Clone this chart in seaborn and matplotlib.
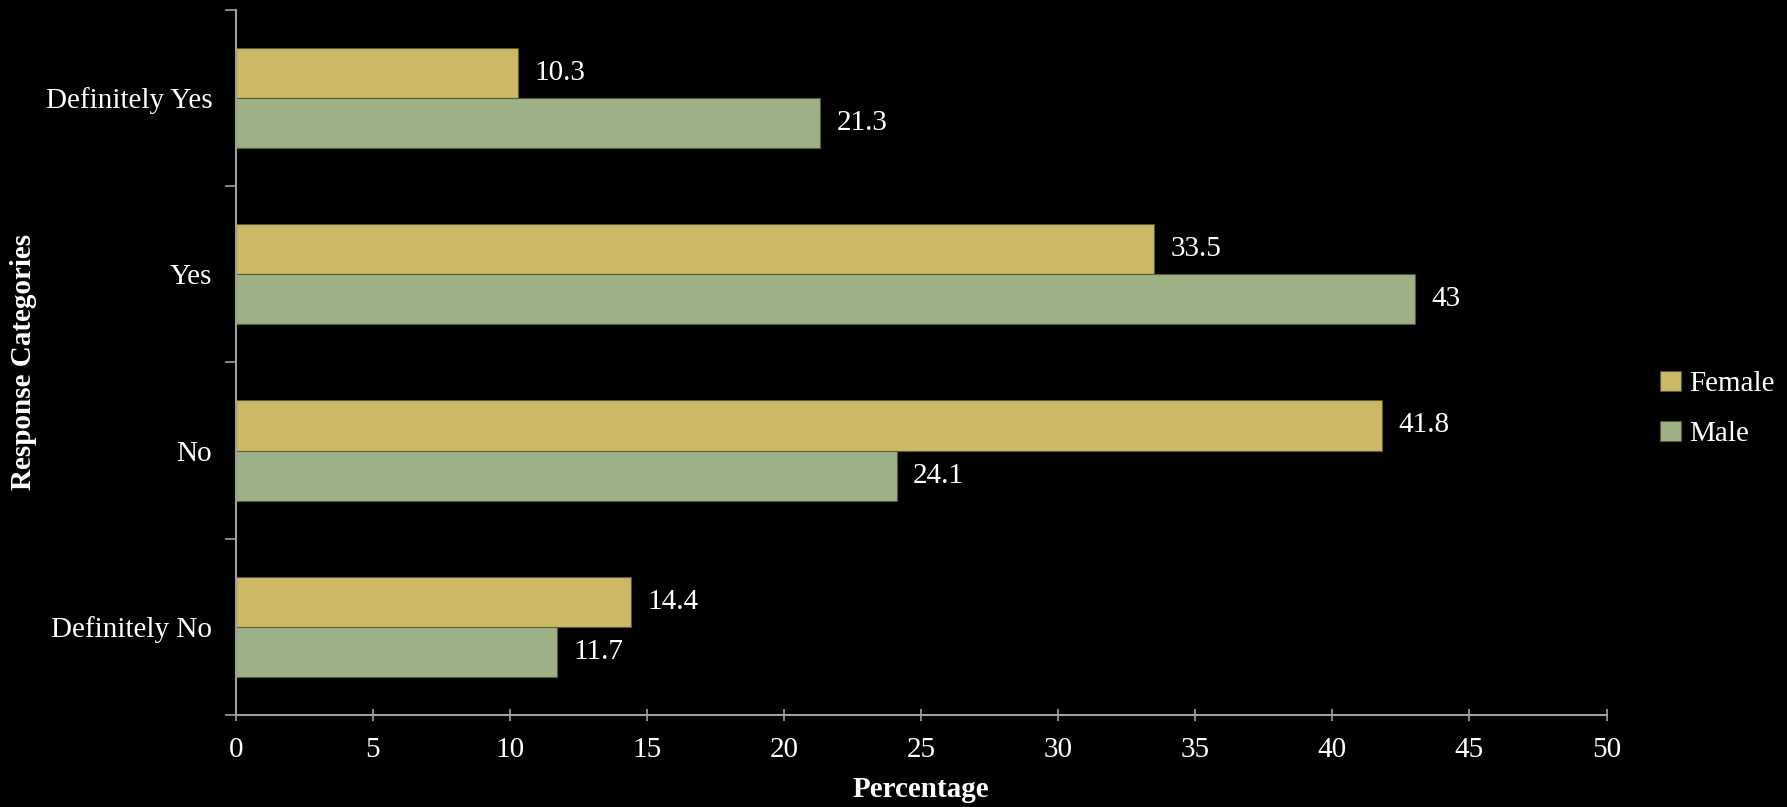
import pandas as pd
import matplotlib.pyplot as plt
import seaborn as sns

categories = ["Definitely Yes", "Yes", "No", "Definitely No"]
female = [10.3, 33.5, 41.8, 14.4]
male = [21.3, 43, 24.1, 11.7]
genders = ["Female", "Male"]
x_ticks = [0, 5, 10, 15, 20, 25, 30, 35, 40, 45, 50]


def setup_style():
    sns.set_theme(style="white")
    plt.rcParams.update({
        "font.family": ["Liberation Serif", "DejaVu Serif"],
        "figure.facecolor": "black",
        "axes.facecolor": "black",
        "savefig.facecolor": "black",
        "text.color": "white",
        "axes.labelcolor": "white",
        "xtick.color": "white",
        "ytick.color": "white",
    })


def plot_bars(out_path):
    df = pd.DataFrame({
        "Category": categories * 2,
        "Percentage": female + male,
        "Gender": [genders[0]] * 4 + [genders[1]] * 4,
    })

    fig = plt.figure(figsize=(17.87, 8.07), dpi=100)
    ax = fig.add_axes([0.132, 0.114, 0.767, 0.874])

    sns.barplot(data=df, y="Category", x="Percentage", hue="Gender",
                order=categories, hue_order=genders,
                palette=["#CDB866", "#9DB184"], saturation=1, width=0.57,
                edgecolor="#5a5a3a", linewidth=0.8, orient="h", ax=ax)

    fs = 21
    for cont in ax.containers:
        ax.bar_label(cont, fmt="%g", padding=12, fontsize=fs, color="white")

    ax.set_xlim(0, 50)
    ax.set_ylim(3.5, -0.5)
    ax.set_xticks(x_ticks)
    ax.set_xticklabels([str(t) for t in x_ticks], fontsize=fs)
    ax.set_yticks([-0.5, 0.5, 1.5, 2.5, 3.5])
    ax.set_yticklabels([])
    ax.set_yticks(range(len(categories)), labels=categories, minor=True)
    ax.tick_params(axis="y", which="minor", length=0, labelsize=fs, pad=17)
    ax.tick_params(axis="y", which="major", length=8, width=1.2,
                   color="#a0a0a0", direction="out", left=True)
    ax.tick_params(axis="x", length=8, width=1.2, color="#a0a0a0",
                   direction="inout", bottom=True, labelsize=fs, pad=12)

    for side in ["top", "right"]:
        ax.spines[side].set_visible(False)
    for side in ["left", "bottom"]:
        ax.spines[side].set_color("#a0a0a0")
        ax.spines[side].set_linewidth(1.5)

    ax.set_xlabel("Percentage", fontsize=fs, fontweight="bold", labelpad=9)
    ax.set_ylabel("Response Categories", fontsize=fs, fontweight="bold")
    ax.yaxis.set_label_coords(-0.145, 0.5)

    ax.legend(loc="center left", bbox_to_anchor=(1.02, 0.434), frameon=False,
              fontsize=fs, handlelength=0.7, handleheight=0.7, handletextpad=0.3,
              labelspacing=0.8)

    fig.savefig(out_path, dpi=100, facecolor="black")
    plt.close(fig)


if __name__ == "__main__":
    setup_style()
    plot_bars("out.png")
